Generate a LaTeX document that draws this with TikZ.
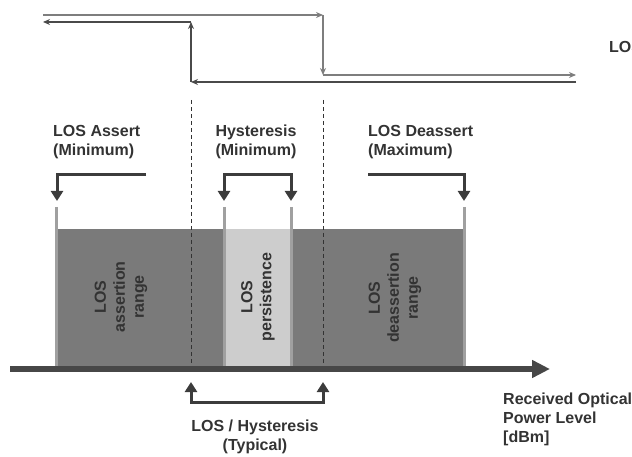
\documentclass[tikz,border=0pt]{standalone}
\usepackage{fontspec}
\setmainfont{Liberation Sans}
\usetikzlibrary{arrows.meta}
\definecolor{txt}{HTML}{333333}
\definecolor{sigLight}{HTML}{7E7E7E}
\definecolor{sigDark}{HTML}{4A4A4A}
\definecolor{boxDark}{HTML}{7A7A7A}
\definecolor{boxLight}{HTML}{CDCDCD}
\definecolor{markc}{HTML}{A0A0A0}
\definecolor{brkc}{HTML}{3C3C3C}
\definecolor{axisc}{HTML}{474747}
\begin{document}
\begin{tikzpicture}[x=1pt,y=-1pt,
  sigA/.style={draw=sigLight,line width=1.4pt,-{Stealth[length=7pt,width=6pt]}},
  sigB/.style={draw=sigDark,line width=1.4pt,-{Stealth[length=7pt,width=6pt]}},
  brk/.style={draw=brkc,line width=3pt},
  tipb/.style={-{Triangle[length=10pt,width=12pt]}},
  marker/.style={draw=markc,line width=3pt},
  guide/.style={draw=txt,line width=0.8pt,dash pattern=on 4pt off 3pt},
  lbl/.style={inner sep=0pt,text=txt,font=\bfseries\fontsize{16}{19}\selectfont},
  vlbl/.style={lbl,rotate=90,align=center}]
\useasboundingbox (0,0) rectangle (632,457);

% top signal paths
\coordinate (a1) at (43,15);
\coordinate (a2) at (323,15);
\coordinate (a3) at (323,75);
\coordinate (a4) at (576,75);
\coordinate (b1) at (576,82);
\coordinate (b2) at (191,82);
\coordinate (b3) at (191,22);
\coordinate (b4) at (43,22);
\draw[sigA] (a1) -- (a2);
\draw[sigA] (a2) -- (a3);
\draw[sigA] (a3) -- (a4);
\draw[sigB] (b1) -- (b2);
\draw[sigB] (b2) -- (b3);
\draw[sigB] (b3) -- (b4);
\node[lbl,anchor=base west] (los) at (609,53) {LOS};

% ranges
\fill[boxDark] (56,229) rectangle (464,370);
\fill[boxLight] (225,229) rectangle (290,370);
\coordinate (m1t) at (56,207);   \coordinate (m1b) at (56,370);
\coordinate (m2t) at (224,207);  \coordinate (m2b) at (224,370);
\coordinate (m3t) at (291,207);  \coordinate (m3b) at (291,370);
\coordinate (m4t) at (464,207);  \coordinate (m4b) at (464,370);
\draw[marker] (m1t) -- (m1b);
\draw[marker] (m2t) -- (m2b);
\draw[marker] (m3t) -- (m3b);
\draw[marker] (m4t) -- (m4b);

% dashed guides
\coordinate (g1t) at (191,100); \coordinate (g1b) at (191,368);
\coordinate (g2t) at (323,100); \coordinate (g2b) at (323,368);
\draw[guide] (g1t) -- (g1b);
\draw[guide] (g2t) -- (g2b);

% axis
\coordinate (ax0) at (10,369);
\coordinate (ax1) at (550,369);
\draw[draw=axisc,line width=6pt,-{Triangle[length=18pt,width=17pt]}] (ax0) -- (ax1);

% rotated range labels
\node[vlbl] (r1) at (121,297) {LOS\\assertion\\range};
\node[vlbl] (r2) at (258,297) {LOS\\persistence};
\node[vlbl] (r3) at (395,298) {LOS\\deassertion\\range};

% top brackets
\coordinate (as0) at (146,175); \coordinate (as1) at (57,175); \coordinate (as2) at (57,201);
\draw[brk,tipb] (as0) -- (as1) -- (as2);
\coordinate (hy0) at (224,201); \coordinate (hy1) at (224,175);
\coordinate (hy2) at (291,175); \coordinate (hy3) at (291,201);
\draw[brk,{Triangle[length=10pt,width=12pt]}-{Triangle[length=10pt,width=12pt]}] (hy0) -- (hy1) -- (hy2) -- (hy3);
\coordinate (de0) at (368,175); \coordinate (de1) at (464,175); \coordinate (de2) at (464,201);
\draw[brk,tipb] (de0) -- (de1) -- (de2);

% bottom bracket
\coordinate (bt0) at (191,382); \coordinate (bt1) at (191,402);
\coordinate (bt2) at (323,402); \coordinate (bt3) at (323,382);
\draw[brk,{Triangle[length=10pt,width=12pt]}-{Triangle[length=10pt,width=12pt]}] (bt0) -- (bt1) -- (bt2) -- (bt3);

% labels
\node[lbl,align=left,anchor=north west] (lasrt) at (53,125) {LOS Assert\\(Minimum)};
\node[lbl,align=center,anchor=north] (lhys) at (256,125) {Hysteresis\\(Minimum)};
\node[lbl,align=left,anchor=north west] (ldea) at (368,125) {LOS Deassert\\(Maximum)};
\node[lbl,align=center,anchor=north] (ltyp) at (255,420) {LOS / Hysteresis\\(Typical)};
\node[lbl,align=left,anchor=north west] (lpow) at (503,393) {Received Optical\\Power Level\\{[}dBm{]}};
\end{tikzpicture}
\end{document}
